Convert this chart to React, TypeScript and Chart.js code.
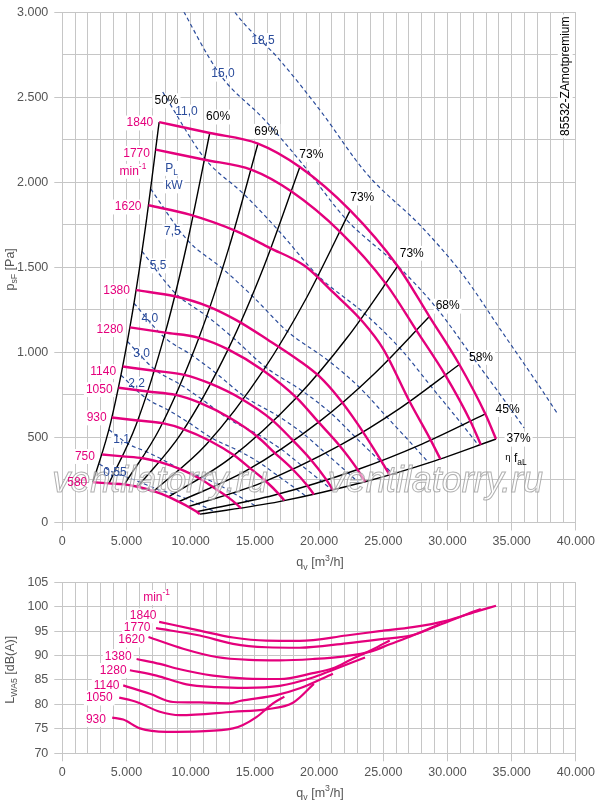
import React, { useEffect, useRef } from 'react';
import { Chart, registerables } from 'chart.js';

Chart.register(...registerables);

type Pt = [number, number];

// ---------- TOP CHART: fan curves, q [m3/h] vs p [Pa] ----------
const speed1840: Pt[] = [[7543,2354],[11485,2290],[15241,2228],[18500,2090],[22420,1835],[26127,1507],[28592,1211],[30925,929],[32950,638],[33779,491]];
const speed1770: Pt[] = [[7279,2192],[11083,2133],[14708,2075],[17853,1946],[21635,1709],[25213,1403],[27591,1128],[29843,865],[31797,594],[32597,457]];
const speed1620: Pt[] = [[6713,1865],[9930,1810],[13550,1713],[16150,1615],[18870,1509],[21080,1354],[23400,1180],[25000,1020],[27037,713],[28592,499],[29447,373]];
const speed1380: Pt[] = [[5748,1366],[8760,1330],[11350,1271],[13550,1190],[16000,1075],[18484,950],[20000,860],[21500,735],[23000,580],[24200,440],[25503,280]];
const speed1280: Pt[] = [[5265,1147],[8017,1116],[10638,1086],[12913,1018],[15649,894],[18237,734],[19957,590],[21586,453],[22999,311],[23578,239]];
const speed1140: Pt[] = [[4707,917],[7167,892],[9510,868],[11544,816],[13990,725],[16303,605],[17841,492],[19297,375],[20561,252],[21078,191]];
const speed1050: Pt[] = [[4375,792],[6661,770],[8840,750],[10730,703],[13004,617],[15154,507],[16583,407],[17937,313],[19111,215],[19592,165]];
const speed930: Pt[] = [[3862,617],[5880,600],[7803,584],[9472,548],[11479,481],[13377,395],[14639,318],[15834,244],[16870,167],[17295,129]];
const speed750: Pt[] = [[3108,400],[4732,389],[6279,378],[7622,355],[9237,312],[10764,256],[11780,206],[12741,158],[13575,108],[13917,83]];
const speed580: Pt[] = [[2391,237],[3641,230],[4831,224],[5865,210],[7107,184],[8282,151],[9064,122],[9803,93],[10445,64],[10708,49]];

// efficiency lines (eta_faL)
const eff50: Pt[] = [[2391,237],[3772,589],[5280,1154],[6412,1701],[7543,2354]];
const eff60: Pt[] = [[3641,230],[5743,573],[8040,1122],[9762,1655],[11485,2290]];
const eff69: Pt[] = [[4831,224],[7621,557],[10669,1092],[12955,1610],[15241,2228]];
const eff73a: Pt[] = [[5865,210],[9250,523],[12950,1024],[15725,1510],[18500,2090]];
const eff73b: Pt[] = [[7107,184],[11210,459],[15694,899],[19057,1326],[22420,1835]];
const eff73c: Pt[] = [[8282,151],[13064,377],[18289,738],[22208,1089],[26127,1507]];
const eff68: Pt[] = [[9064,122],[14296,303],[20014,593],[24303,875],[28592,1211]];
const eff58: Pt[] = [[9803,93],[15463,232],[21648,455],[26286,671],[30925,929]];
const eff45: Pt[] = [[10445,64],[16475,160],[23065,313],[28008,461],[32950,638]];
const eff37: Pt[] = [[10708,49],[16890,123],[23645,241],[28712,355],[33779,491]];

// shaft power lines P_L [kW]
const pw055: Pt[] = [[2881,344],[4090,290],[5222,262],[6193,233],[7343,197],[8679,167],[9694,139],[10581,109],[11488,78],[11950,61]];
const pw110: Pt[] = [[3631,545],[5153,461],[6580,415],[7804,370],[9252,312],[10935,264],[12215,221],[13332,172],[14474,123],[15056,97]];
const pw220: Pt[] = [[4574,866],[6493,732],[8290,659],[9832,588],[11656,496],[13778,420],[15389,350],[16797,274],[18236,196],[18970,155]];
const pw300: Pt[] = [[5072,1064],[7199,900],[9193,811],[10902,723],[12925,610],[15278,516],[17065,430],[18626,336],[20222,240],[21035,190]];
const pw400: Pt[] = [[5583,1289],[7924,1090],[10119,982],[12000,876],[14226,739],[16816,625],[18783,521],[20501,408],[22258,291],[23152,230]];
const pw550: Pt[] = [[6208,1594],[8812,1348],[11252,1214],[13344,1083],[15820,914],[18699,773],[20887,645],[22797,504],[24751,360],[25746,285]];
const pw750: Pt[] = [[6884,1961],[9771,1658],[12477,1493],[14797,1332],[17542,1123],[20735,951],[23161,793],[25280,620],[27446,443],[28549,350]];
const pw1100: Pt[] = [[7822,2531],[11102,2140],[14176,1928],[16812,1719],[19932,1450],[23559,1227],[26316,1023],[28723,800],[31184,572],[32437,452]];
const pw1500: Pt[] = [[8673,3112],[12311,2631],[15720,2370],[18643,2114],[22102,1783],[26125,1509],[29181,1258],[31851,984],[34580,703],[35970,556]];
const pw1850: Pt[] = [[9301,3579],[13203,3026],[16859,2726],[19993,2432],[23703,2051],[28017,1736],[31295,1447],[34157,1131],[37084,809],[38575,639]];

// ---------- BOTTOM CHART: sound power L_WA5 [dB(A)] ----------
const lw1840: Pt[] = [[7543,96.9],[10708,95.1],[13297,93.7],[15894,93.05],[18484,93.0],[22115,94.1],[24705,95.0],[27294,95.8],[29891,97.1],[32480,99.2],[33779,100.2]];
const lw1770: Pt[] = [[7300,95.6],[10708,94.1],[13297,92.4],[15894,91.7],[18484,91.6],[22115,92.5],[24705,93.3],[27294,94.2],[29113,96.0],[31446,98.4],[32597,99.5]];
const lw1620: Pt[] = [[6713,93.8],[9409,91.4],[12006,89.7],[14596,89.1],[16929,89.0],[19518,89.3],[22115,89.9],[24000,90.8],[25500,92.3],[27294,94.1],[29447,96.5]];
const lw1380: Pt[] = [[5785,89.3],[7597,88.3],[9152,87.2],[11742,85.9],[14337,85.3],[16929,85.2],[19518,86.4],[21073,87.4],[22500,89.2],[24200,91.3],[25503,93.1]];
const lw1280: Pt[] = [[5264,87.0],[7340,85.9],[9673,84.1],[12006,83.55],[14337,83.4],[16929,83.8],[19518,85.5],[20816,86.8],[23578,89.6]];
const lw1140: Pt[] = [[4743,83.9],[6820,82.2],[8631,80.5],[10708,80.4],[13040,80.2],[13818,80.7],[16671,81.9],[18500,83.3],[21078,86.3]];
const lw1050: Pt[] = [[4432,81.4],[5785,80.5],[7597,78.5],[9152,77.8],[13297,78.5],[15894,79.0],[18000,80.4],[19592,84.2]];
const lw930: Pt[] = [[3888,77.3],[4743,76.9],[6042,75.1],[8118,74.4],[10708,74.5],[13297,75.1],[14074,75.8],[15116,77.4],[16408,80.2],[17295,81.6]];

// axis ranges / ticks
const flowMax = 40000;
const flowStep = 1000;
const flowLabelStep = 5000;
const pressMax = 3000;
const pressStep = 250;
const pressLabelStep = 500;
const dbMin = 70;
const dbMax = 105;
const dbStep = 5;

// ---------- styles ----------
const FONT = '"Liberation Sans", Arial, Helvetica, sans-serif';
const PINK = '#e4007c';
const BLUE = '#2b4c9b';
const GRID = '#c6c6c6';
const TXT = '#555555';

type Seg = { t: string; sub?: boolean; sup?: boolean; small?: boolean };
type Ann = { segs: Seg[]; q: number; v: number; color: string; align?: 'left' | 'center' | 'right'; size?: number; bg?: boolean; rot?: boolean };

const T = (t: string): Seg[] => [{ t }];

const topAnnotations: Ann[] = [
  { segs: T('50%'), q: 8118, v: 2480, color: '#000' },
  { segs: T('60%'), q: 12131, v: 2384, color: '#000' },
  { segs: T('69%'), q: 15894, v: 2300, color: '#000' },
  { segs: T('73%'), q: 19393, v: 2164, color: '#000' },
  { segs: T('73%'), q: 23359, v: 1908, color: '#000' },
  { segs: T('73%'), q: 27216, v: 1583, color: '#000' },
  { segs: T('68%'), q: 30015, v: 1272, color: '#000' },
  { segs: T('58%'), q: 32612, v: 971, color: '#000' },
  { segs: T('45%'), q: 34681, v: 664, color: '#000' },
  { segs: T('37%'), q: 35536, v: 490, color: '#000' },
  { segs: [{ t: 'η', small: true }, { t: ' f' }, { t: 'aL', sub: true }], q: 34502, v: 373, color: '#000', align: 'left', bg: false },
  { segs: T('18,5'), q: 15630, v: 2834, color: BLUE },
  { segs: T('15,0'), q: 12519, v: 2636, color: BLUE },
  { segs: T('11,0'), q: 9673, v: 2413, color: BLUE },
  { segs: T('7,5'), q: 8569, v: 1709, color: BLUE },
  { segs: T('5,5'), q: 7465, v: 1509, color: BLUE },
  { segs: T('4,0'), q: 6820, v: 1198, color: BLUE },
  { segs: T('3,0'), q: 6174, v: 991, color: BLUE },
  { segs: T('2,2'), q: 5785, v: 814, color: BLUE },
  { segs: T('1,1'), q: 4619, v: 484, color: BLUE },
  { segs: T('0,55'), q: 4098, v: 295, color: BLUE },
  { segs: [{ t: 'P' }, { t: 'L', sub: true }], q: 8507, v: 2082, color: BLUE },
  { segs: T('kW'), q: 8686, v: 1979, color: BLUE },
  { segs: T('1840'), q: 6042, v: 2349, color: PINK },
  { segs: T('1770'), q: 5785, v: 2170, color: PINK },
  { segs: [{ t: 'min' }, { t: '-1', sup: true }], q: 5498, v: 2065, color: PINK },
  { segs: T('1620'), q: 5132, v: 1855, color: PINK },
  { segs: T('1380'), q: 4230, v: 1360, color: PINK },
  { segs: T('1280'), q: 3709, v: 1134, color: PINK },
  { segs: T('1140'), q: 3188, v: 888, color: PINK },
  { segs: T('1050'), q: 2877, v: 781, color: PINK },
  { segs: T('930'), q: 2675, v: 615, color: PINK },
  { segs: T('750'), q: 1765, v: 388, color: PINK },
  { segs: T('580'), q: 1166, v: 237, color: PINK },
  { segs: T('85532-ZAmotpremium'), q: 39167, v: 2624, color: '#000', rot: true },
];

const bottomAnnotations: Ann[] = [
  { segs: [{ t: 'min' }, { t: '-1', sup: true }], q: 7340, v: 101.87, color: PINK },
  { segs: T('1840'), q: 6299, v: 98.14, color: PINK },
  { segs: T('1770'), q: 5832, v: 95.76, color: PINK },
  { segs: T('1620'), q: 5397, v: 93.2, color: PINK },
  { segs: T('1380'), q: 4355, v: 89.8, color: PINK },
  { segs: T('1280'), q: 3966, v: 86.95, color: PINK },
  { segs: T('1140'), q: 3453, v: 83.9, color: PINK },
  { segs: T('1050'), q: 2877, v: 81.31, color: PINK },
  { segs: T('930'), q: 2621, v: 76.92, color: PINK },
];

const watermarkText = 'ventilatorry.ru';
const watermarkSpots: Pt[] = [[7597, 182], [29059, 182]];

function fmtThousands(v: number): string {
  if (Math.abs(v) < 1000) return String(v);
  const th = Math.floor(v / 1000);
  const rest = String(Math.round(v % 1000)).padStart(3, '0');
  return th + '.' + rest;
}

function segSize(size: number, s: Seg) {
  return s.sub || s.sup ? size * 0.7 : s.small ? size * 0.8 : size;
}

function measure(ctx: CanvasRenderingContext2D, segs: Seg[], size: number) {
  const widths = segs.map((s) => {
    ctx.font = `${segSize(size, s)}px ${FONT}`;
    return ctx.measureText(s.t).width;
  });
  return { widths, total: widths.reduce((a, b) => a + b, 0) };
}

function drawRich(ctx: CanvasRenderingContext2D, segs: Seg[], x: number, y: number, size: number, color: string, align: 'left' | 'center' | 'right', mode: 'bg' | 'text') {
  ctx.save();
  ctx.textBaseline = 'middle';
  ctx.textAlign = 'left';
  const { widths, total } = measure(ctx, segs, size);
  let x0 = align === 'left' ? x : align === 'center' ? x - total / 2 : x - total;
  if (mode === 'bg') {
    ctx.fillStyle = '#ffffff';
    ctx.fillRect(x0 - 2, y - size * 0.62, total + 4, size * 1.24);
    ctx.restore();
    return;
  }
  ctx.fillStyle = color;
  segs.forEach((s, i) => {
    ctx.font = `${segSize(size, s)}px ${FONT}`;
    const dy = s.sub ? size * 0.33 : s.sup ? -size * 0.38 : s.small ? -size * 0.12 : 0;
    ctx.fillText(s.t, x0, y + dy);
    x0 += widths[i];
  });
  ctx.restore();
}

function drawAnn(chart: any, a: Ann, mode: 'bg' | 'text') {
  const ctx: CanvasRenderingContext2D = chart.ctx;
  const x = chart.scales.x.getPixelForValue(a.q);
  const y = chart.scales.y.getPixelForValue(a.v);
  const size = a.size ?? 12;
  if (mode === 'bg' && a.bg === false) return;
  if (a.rot) {
    ctx.save();
    ctx.translate(x, y);
    ctx.rotate(-Math.PI / 2);
    drawRich(ctx, a.segs, 0, 0, size, a.color, 'center', mode);
    ctx.restore();
  } else {
    drawRich(ctx, a.segs, x, y, size, a.color, a.align ?? 'center', mode);
  }
}

function annotationPlugin(items: Ann[], xTitleOffset: number, yTitle: Seg[], watermark: boolean) {
  return {
    id: 'annotations',
    beforeDatasetsDraw(chart: any) {
      items.forEach((a) => drawAnn(chart, a, 'bg'));
    },
    afterDatasetsDraw(chart: any) {
      const ctx: CanvasRenderingContext2D = chart.ctx;
      if (watermark) {
        ctx.save();
        ctx.font = `italic 36px ${FONT}`;
        ctx.textAlign = 'center';
        ctx.textBaseline = 'alphabetic';
        watermarkSpots.forEach(([q, p]) => {
          const x = chart.scales.x.getPixelForValue(q);
          const y = chart.scales.y.getPixelForValue(p);
          ctx.fillStyle = 'rgba(255,255,255,0.55)';
          ctx.fillText(watermarkText, x, y);
          ctx.strokeStyle = 'rgba(150,150,150,0.75)';
          ctx.lineWidth = 1;
          ctx.strokeText(watermarkText, x, y);
        });
        ctx.restore();
      }
      items.forEach((a) => drawAnn(chart, a, 'text'));
    },
    afterDraw(chart: any) {
      const ctx: CanvasRenderingContext2D = chart.ctx;
      const area = chart.chartArea;
      const xt: Seg[] = [{ t: 'q' }, { t: 'v', sub: true }, { t: ' [m' }, { t: '3', sup: true }, { t: '/h]' }];
      drawRich(ctx, xt, (area.left + area.right) / 2 + 1, area.bottom + xTitleOffset, 12.5, TXT, 'center', 'text');
      ctx.save();
      ctx.translate(area.left - 52, (area.top + area.bottom) / 2 + 2);
      ctx.rotate(-Math.PI / 2);
      drawRich(ctx, yTitle, 0, 0, 12.5, TXT, 'center', 'text');
      ctx.restore();
    },
  };
}

function ds(pts: Pt[], color: string, width: number, dash: number[] = []) {
  return {
    data: pts.map(([x, y]) => ({ x, y })),
    borderColor: color,
    backgroundColor: color,
    borderWidth: width,
    borderDash: dash,
    pointRadius: 0,
    pointHoverRadius: 0,
    fill: false,
    cubicInterpolationMode: 'monotone' as const,
    clip: 0,
  };
}

const tickFont = { family: FONT, size: 12.5, lineHeight: 1 };
const transparent = 'rgba(0,0,0,0)';

function xScale(height: number) {
  return {
    type: 'linear' as const,
    min: 0,
    max: flowMax,
    afterFit: (s: any) => { s.height = height; },
    grid: { color: GRID, lineWidth: 1, tickLength: 8, tickColor: (c: any) => (c.tick && c.tick.value % flowLabelStep === 0 ? GRID : transparent) },
    border: { color: GRID, width: 1 },
    ticks: {
      stepSize: flowStep, autoSkip: false, maxRotation: 0, minRotation: 0, padding: 5, color: TXT, font: tickFont,
      callback: (v: any) => (Number(v) % flowLabelStep === 0 ? fmtThousands(Number(v)) : ''),
    },
  };
}

function yScale(min: number, max: number, step: number, labelStep: number) {
  return {
    type: 'linear' as const,
    min,
    max,
    afterFit: (s: any) => { s.width = 62.3; },
    grid: { color: GRID, lineWidth: 1, tickLength: 8, tickColor: (c: any) => (c.tick && c.tick.value % labelStep === 0 ? GRID : transparent) },
    border: { color: GRID, width: 1 },
    ticks: {
      stepSize: step, autoSkip: false, padding: 6, color: TXT, font: tickFont,
      callback: (v: any) => (Number(v) % labelStep === 0 ? fmtThousands(Number(v)) : ''),
    },
  };
}

export default function App() {
  const topRef = useRef<HTMLCanvasElement>(null);
  const botRef = useRef<HTMLCanvasElement>(null);

  useEffect(() => {
    const pinkTop = [speed1840, speed1770, speed1620, speed1380, speed1280, speed1140, speed1050, speed930, speed750, speed580];
    const blackTop = [eff50, eff60, eff69, eff73a, eff73b, eff73c, eff68, eff58, eff45, eff37];
    const blueTop = [pw055, pw110, pw220, pw300, pw400, pw550, pw750, pw1100, pw1500, pw1850];

    const top = new Chart(topRef.current as HTMLCanvasElement, {
      type: 'line',
      data: {
        datasets: [
          ...pinkTop.map((p) => ds(p, PINK, 2.4)),
          ...blackTop.map((p) => ds(p, '#000000', 1.4)),
          ...blueTop.map((p) => ds(p, BLUE, 1.2, [4, 3])),
        ] as any,
      },
      options: {
        responsive: false,
        animation: false,
        events: [],
        layout: { padding: { top: 7.5, right: 23, left: 0, bottom: 0 } },
        plugins: { legend: { display: false }, tooltip: { enabled: false } },
        scales: {
          x: xScale(47.5),
          y: yScale(0, pressMax, pressStep, pressLabelStep),
        } as any,
      },
      plugins: [annotationPlugin(topAnnotations, 40.5, [{ t: 'p' }, { t: 'sF', sub: true }, { t: ' [Pa]' }], true)],
    });

    const pinkBottom = [lw1840, lw1770, lw1620, lw1380, lw1280, lw1140, lw1050, lw930];
    const bottom = new Chart(botRef.current as HTMLCanvasElement, {
      type: 'line',
      data: { datasets: pinkBottom.map((p) => ds(p, PINK, 2.2)) as any },
      options: {
        responsive: false,
        animation: false,
        events: [],
        layout: { padding: { top: 11.3, right: 23, left: 0, bottom: 0 } },
        plugins: { legend: { display: false }, tooltip: { enabled: false } },
        scales: {
          x: xScale(52.7),
          y: yScale(dbMin, dbMax, dbStep, dbStep),
        } as any,
      },
      plugins: [annotationPlugin(bottomAnnotations, 40, [{ t: 'L' }, { t: 'WA5', sub: true }, { t: ' [dB(A)]' }], false)],
    });

    return () => {
      top.destroy();
      bottom.destroy();
    };
  }, []);

  return (
    <div style={{ position: 'absolute', left: 0, top: 0, width: 600, height: 806, background: '#ffffff' }}>
      <canvas ref={topRef} width={600} height={570} style={{ position: 'absolute', left: 0, top: 0, width: 600, height: 570, display: 'block' }} />
      <canvas ref={botRef} width={600} height={236} style={{ position: 'absolute', left: 0, top: 570, width: 600, height: 236, display: 'block' }} />
    </div>
  );
}
